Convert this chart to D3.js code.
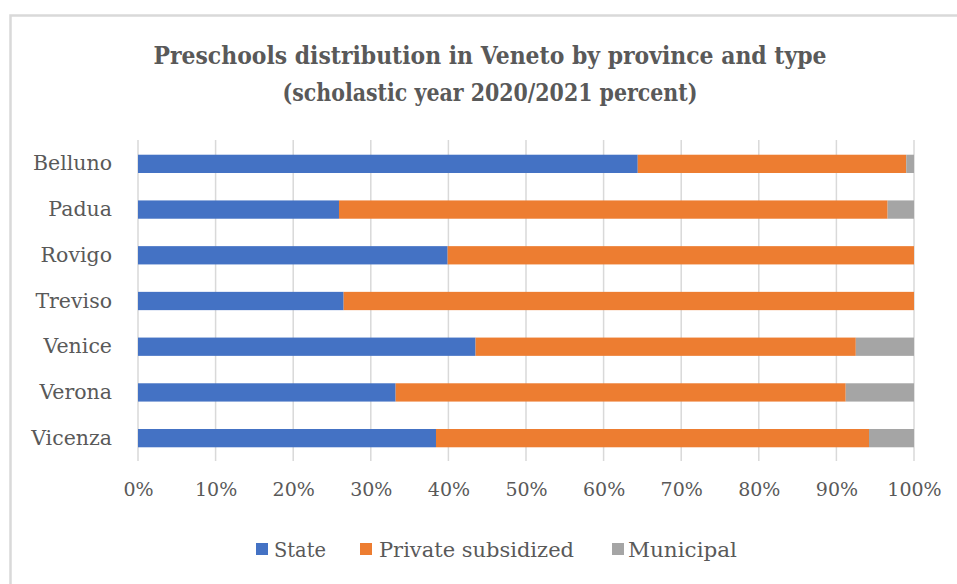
<!DOCTYPE html>
<html><head><meta charset="utf-8">
<script src="https://cdn.jsdelivr.net/npm/d3@7"></script>
<style>body{margin:0;background:#fff;} svg{display:block;}</style>
</head><body>
<script>
const provinces = ["Belluno","Padua","Rovigo","Treviso","Venice","Verona","Vicenza"];
const seriesNames = ["State","Private subsidized","Municipal"];
const stateVals = [64.4, 25.9, 39.9, 26.5, 43.5, 33.2, 38.4];
const privateVals = [34.6, 70.7, 60.1, 73.5, 49.0, 58.0, 55.8];
const municipalVals = [1.0, 3.4, 0.0, 0.0, 7.5, 8.8, 5.8];
const colors = ["#4472c4","#ed7d31","#a5a5a5"];
const xTicks = [0,10,20,30,40,50,60,70,80,90,100];
const titleLines = ["Preschools distribution in Veneto by province and type","(scholastic year 2020/2021 percent)"];

const W = 957, H = 584;
const svg = d3.select("body").append("svg").attr("width", W).attr("height", H);
const font = "'DejaVu Serif', serif";
const txt = "#595959";

// frame
svg.append("path").attr("d", `M10.5,${H} L10.5,15.5 L${W},15.5`).attr("fill","none").attr("stroke","#d9d9d9").attr("stroke-width",2.5);

const rows = provinces.map((p,i)=>({province:p, "State":stateVals[i], "Private subsidized":privateVals[i], "Municipal":municipalVals[i]}));
const stacked = d3.stack().keys(seriesNames)(rows);

const x = d3.scaleLinear().domain([0,100]).range([138, 914]);
const y = d3.scaleBand().domain(provinces).range([141, 461]).paddingInner(0.6).paddingOuter(0.3);

// grid
svg.append("g").selectAll("line").data(xTicks).join("line")
  .attr("x1", d=>x(d)).attr("x2", d=>x(d)).attr("y1", 140).attr("y2", 461)
  .attr("stroke","#d9d9d9").attr("stroke-width",1.5);

// bars
svg.append("g").selectAll("g").data(stacked).join("g")
  .attr("fill",(d,i)=>colors[i])
  .selectAll("rect").data(d=>d).join("rect")
  .attr("x", d=>x(d[0])).attr("width", d=>x(d[1])-x(d[0]))
  .attr("y", d=>y(d.data.province)).attr("height", y.bandwidth());

// y labels
const yAxis = svg.append("g").attr("transform","translate(138,0)").call(d3.axisLeft(y).tickSize(0).tickPadding(26));
yAxis.select(".domain").remove();
yAxis.selectAll("text").attr("font-family",font).attr("font-size",20.5).attr("fill",txt);

// x labels
const xAxis = svg.append("g").attr("transform","translate(0,461)").call(d3.axisBottom(x).tickValues(xTicks).tickFormat(d=>d+"%").tickSize(0).tickPadding(22));
xAxis.select(".domain").remove();
xAxis.selectAll("text").attr("font-family",font).attr("font-size",19).attr("fill",txt);

// title
svg.append("g").selectAll("text").data(titleLines).join("text")
  .attr("x", 490).attr("y",(d,i)=>64+i*37).attr("text-anchor","middle")
  .attr("font-family",font).attr("font-weight","bold").attr("font-size",24).attr("fill",txt)
  .attr("textLength",(d,i)=>i===0?673:415).attr("lengthAdjust","spacingAndGlyphs")
  .text(d=>d);

// legend
const legendItems = [{x:256, tx:274, tw:52},{x:360, tx:379, tw:195},{x:612, tx:628, tw:109}];
const lg = svg.append("g");
seriesNames.forEach((s,i)=>{
  lg.append("rect").attr("x",legendItems[i].x).attr("y",543).attr("width",12).attr("height",12).attr("fill",colors[i]);
  lg.append("text").attr("x",legendItems[i].tx).attr("y",557).attr("font-family",font).attr("font-size",20).attr("fill",txt)
    .attr("textLength",legendItems[i].tw).attr("lengthAdjust","spacingAndGlyphs").text(s);
});
</script>
</body></html>
